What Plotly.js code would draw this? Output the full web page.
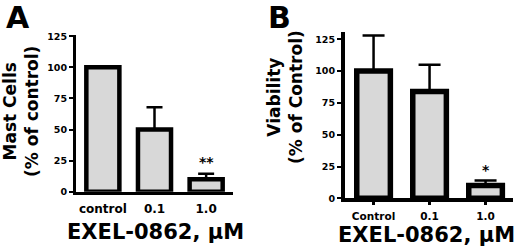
<!DOCTYPE html>
<html><head><meta charset="utf-8">
<script src="https://cdn.plot.ly/plotly-3.0.1.min.js"></script>
<style>html,body{margin:0;padding:0;background:#fff}#chart{width:520px;height:250px}</style>
</head><body><div id="chart"></div>
<script>
const catsA = ["control", "0.1", "1.0"];
const valsA = [100, 50, 10];
const errA = [0, 18, 4.5];
const catsB = ["Control", "0.1", "1.0"];
const valsB = [100, 84, 10];
const errB = [28, 21, 4];
const yTicks = [0, 25, 50, 75, 100, 125];

const F = "DejaVu Sans, Liberation Sans, Arial, sans-serif";
const fill = "#d8d8d8";
const bold = a => a.map(v => "<b>" + v + "</b>");

const traces = [
  {type:"bar", x:catsA, y:valsA, xaxis:"x", yaxis:"y", width:0.64,
   marker:{color:fill, line:{color:"#000", width:4.5}},
   error_y:{type:"data", symmetric:false, array:errA, arrayminus:[0,0,0], color:"#000", thickness:2.5, width:8},
   showlegend:false, hoverinfo:"skip"},
  {type:"bar", x:catsB, y:valsB, xaxis:"x2", yaxis:"y2", width:0.6,
   marker:{color:fill, line:{color:"#000", width:5.5}},
   error_y:{type:"data", symmetric:false, array:errB, arrayminus:[0,0,0], color:"#000", thickness:2.5, width:11},
   showlegend:false, hoverinfo:"skip"}
];

const yCommon = {tickmode:"array", tickvals:yTicks, ticktext:bold(yTicks), ticks:"outside", ticklen:4, tickwidth:2,
  tickcolor:"#000", showline:true, linecolor:"#000", linewidth:3, showgrid:false, zeroline:false,
  tickfont:{family:F, size:9.5, color:"#000", weight:"bold"}, ticklabelstandoff:0, fixedrange:true};

const layout = {
  width:520, height:250, margin:{l:0,r:0,t:0,b:0}, paper_bgcolor:"#fff", plot_bgcolor:"#fff",
  xaxis:{type:"category", domain:[76/520, 233/520], range:[-0.52, 2.52], showline:true, linecolor:"#000", linewidth:3,
    tickmode:"array", tickvals:catsA, ticktext:bold(catsA),
    ticks:"", showgrid:false, zeroline:false, tickfont:{family:F, size:12, color:"#000", weight:"bold"},
    ticklabelstandoff:4, anchor:"y", fixedrange:true},
  yaxis:Object.assign({}, yCommon, {domain:[(250-191.7)/250, (250-35)/250], range:[0,126], anchor:"x"}),
  xaxis2:{type:"category", domain:[345/520, 513/520], range:[-0.51, 2.49], showline:true, linecolor:"#000", linewidth:4,
    tickmode:"array", tickvals:catsB, ticktext:bold(catsB),
    ticks:"outside", ticklen:3, tickwidth:3, tickcolor:"#000", showgrid:false, zeroline:false,
    tickfont:{family:F, size:10.5, color:"#000", weight:"bold"}, ticklabelstandoff:2, anchor:"y2", fixedrange:true},
  yaxis2:Object.assign({}, yCommon, {domain:[(250-198.3)/250, (250-31.7)/250], range:[0,131], anchor:"x2", linewidth:4}),
  annotations:[
    {text:"<b>A</b>", xref:"paper", yref:"paper", x:18/520, y:1-18/250, xanchor:"center", yanchor:"middle", showarrow:false,
     font:{family:F, size:30, color:"#000", weight:"bold"}},
    {text:"<b>B</b>", xref:"paper", yref:"paper", x:279/520, y:1-18/250, xanchor:"center", yanchor:"middle", showarrow:false,
     font:{family:F, size:30, color:"#000", weight:"bold"}},
    {text:"<b>Mast Cells</b><br><b>(% of control)</b>", xref:"paper", yref:"paper", x:21/520, y:1-112/250, xanchor:"center", yanchor:"middle",
     textangle:-90, showarrow:false, font:{family:F, size:17, color:"#000", weight:"bold"}},
    {text:"<b>Viability</b><br><b>(% of Control)</b>", xref:"paper", yref:"paper", x:285/520, y:1-97/250, xanchor:"center", yanchor:"middle",
     textangle:-90, showarrow:false, font:{family:F, size:17, color:"#000", weight:"bold"}},
    {text:"<b>EXEL-0862, µM</b>", xref:"paper", yref:"paper", x:155/520, y:1-232/250, xanchor:"center", yanchor:"middle",
     showarrow:false, font:{family:F, size:21, color:"#000", weight:"bold"}},
    {text:"<b>EXEL-0862, µM</b>", xref:"paper", yref:"paper", x:426/520, y:1-235/250, xanchor:"center", yanchor:"middle",
     showarrow:false, font:{family:F, size:21, color:"#000", weight:"bold"}},
    {text:"<b>**</b>", xref:"x", yref:"y", x:2, y:24, xanchor:"center", yanchor:"middle", showarrow:false,
     font:{family:F, size:14, color:"#000", weight:"bold"}},
    {text:"<b>*</b>", xref:"x2", yref:"y2", x:2, y:22, xanchor:"center", yanchor:"middle", showarrow:false,
     font:{family:F, size:14, color:"#000", weight:"bold"}}
  ]
};

Plotly.newPlot("chart", traces, layout, {displayModeBar:false, staticPlot:true});
</script></body></html>
